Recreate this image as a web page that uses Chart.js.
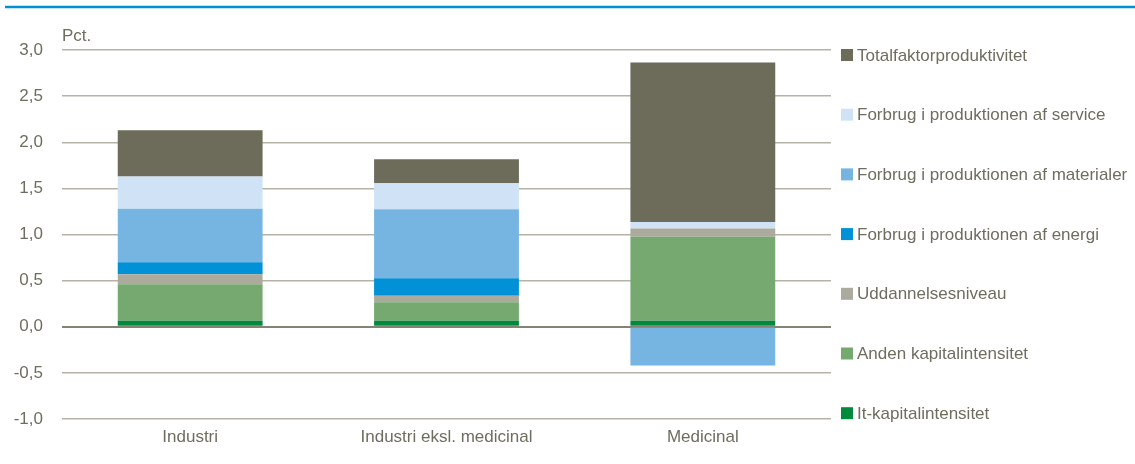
<!DOCTYPE html>
<html><head><meta charset="utf-8">
<script src="https://cdn.jsdelivr.net/npm/chart.js@4/dist/chart.umd.min.js"></script>
<style>html,body{margin:0;padding:0;background:#fff}#wrap{width:1135px;height:464px;position:relative}</style>
</head><body><div id="wrap"><canvas id="c" width="1135" height="464"></canvas></div>
<script>
const categories = ["Industri", "Industri eksl. medicinal", "Medicinal"];
const seriesNames = ["It-kapitalintensitet", "Anden kapitalintensitet", "Uddannelsesniveau", "Forbrug i produktionen af energi", "Forbrug i produktionen af materialer", "Forbrug i produktionen af service", "Totalfaktorproduktivitet"];
const itKapital = [0.065, 0.065, 0.065];
const andenKapital = [0.395, 0.20, 0.91];
const uddannelse = [0.11, 0.07, 0.09];
const energi = [0.13, 0.19, 0.0];
const materialer = [0.58, 0.75, -0.42];
const service = [0.35, 0.28, 0.07];
const tfp = [0.50, 0.26, 1.73];
const yTicks = [-1.0, -0.5, 0.0, 0.5, 1.0, 1.5, 2.0, 2.5, 3.0];
const colors = ["#008a3e", "#76a970", "#abaa9c", "#0091d6", "#76b4e2", "#d0e3f6", "#6d6b5a"];
const values = [itKapital, andenKapital, uddannelse, energi, materialer, service, tfp];

const FONT = "'Liberation Sans Narrow','Arial Narrow','Liberation Sans',sans-serif";
const TXT = "#6f6d5f";

const deco = {
  id: 'deco',
  afterDraw(chart) {
    const ctx = chart.ctx;
    ctx.save();
    ctx.strokeStyle = '#0091d6';
    ctx.lineWidth = 2.5;
    ctx.beginPath(); ctx.moveTo(5, 7); ctx.lineTo(1135, 7); ctx.stroke();
    ctx.fillStyle = TXT;
    ctx.font = "17px " + FONT;
    ctx.textBaseline = 'alphabetic';
    ctx.textAlign = 'left';
    ctx.fillText('Pct.', chart.chartArea.left, 41);
    // legend
    const ds = chart.data.datasets;
    let y = 55;
    for (let i = ds.length - 1; i >= 0; i--) {
      ctx.fillStyle = ds[i].backgroundColor;
      ctx.fillRect(841, y - 6, 12, 12);
      ctx.fillStyle = TXT;
      ctx.textBaseline = 'middle';
      ctx.fillText(ds[i].label, 857, y + 1);
      y += 59.7;
    }
    ctx.restore();
  }
};

new Chart(document.getElementById('c'), {
  type: 'bar',
  data: {
    labels: categories,
    datasets: seriesNames.map((n, i) => ({
      label: n, data: values[i], backgroundColor: colors[i], borderWidth: 0,
      barPercentage: 0.565, categoryPercentage: 1.0
    }))
  },
  options: {
    responsive: false, animation: false,
    layout: { padding: { top: 50, right: 304, bottom: 0, left: 0 } },
    plugins: { legend: { display: false }, tooltip: { enabled: false } },
    scales: {
      x: {
        stacked: true,
        grid: { display: false, drawTicks: false },
        border: { display: false },
        ticks: { color: TXT, font: { family: FONT, size: 17 }, padding: 8 },
        afterFit(s) { s.height = 45; }
      },
      y: {
        stacked: true, min: -1, max: 3,
        afterBuildTicks(s) { s.ticks = yTicks.map(v => ({ value: v })); },
        grid: {
          drawTicks: false,
          color: c => (c.tick && c.tick.value === 0) ? '#858373' : '#b5b3a6',
          lineWidth: c => (c.tick && c.tick.value === 0) ? 2 : 1.5
        },
        border: { display: false },
        ticks: {
          color: TXT, font: { family: FONT, size: 17 }, padding: 19,
          callback: v => v.toFixed(1).replace('.', ',')
        },
        afterFit(s) { s.width = 62; }
      }
    }
  },
  plugins: [deco]
});
</script></body></html>
